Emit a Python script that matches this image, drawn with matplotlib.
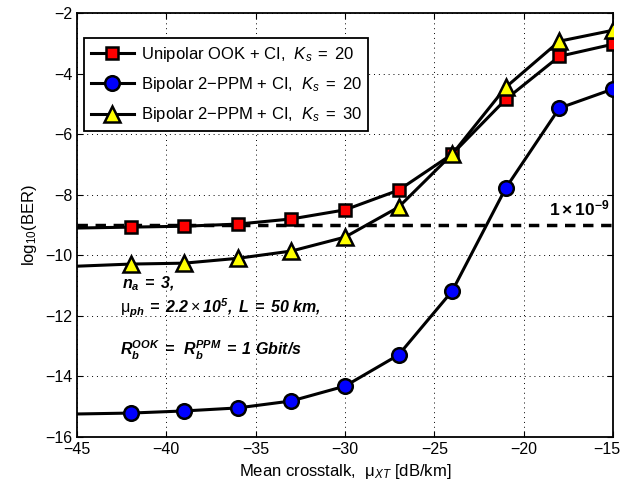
import numpy as np
import matplotlib
matplotlib.use('Agg')
import matplotlib.pyplot as plt
import matplotlib.transforms as mtransforms

plt.rcParams['font.family'] = ['Liberation Sans', 'DejaVu Sans']
plt.rcParams['mathtext.fontset'] = 'custom'
plt.rcParams['mathtext.rm'] = 'Liberation Sans'
plt.rcParams['mathtext.it'] = 'Liberation Sans:italic'
plt.rcParams['mathtext.bf'] = 'Liberation Sans:bold'
plt.rcParams['mathtext.bfit'] = 'Liberation Sans:bold:italic'

# data (first point at -45 has no marker)
crosstalk = [-45, -42, -39, -36, -33, -30, -27, -24, -21, -18, -15]
ook_ks20 = [-9.1, -9.07, -9.04, -8.97, -8.8, -8.5, -7.85, -6.66, -4.85, -3.43, -3.03]
ppm_ks20 = [-15.24, -15.21, -15.14, -15.04, -14.81, -14.32, -13.29, -11.18, -7.78, -5.14, -4.51]
ppm_ks30 = [-10.36, -10.29, -10.26, -10.1, -9.86, -9.4, -8.41, -6.66, -4.45, -2.93, -2.57]
ber_limit = -9

fig = plt.figure(figsize=(6.22, 4.93), dpi=100)
ax = fig.add_axes([0.1238, 0.1136, 0.8617, 0.86])

ax.axhline(ber_limit, color='black', lw=2.5, ls=(0, (3, 2.2)), zorder=2)

ax.plot(crosstalk, ook_ks20, color='black', lw=2.2, marker='s', ms=9, mfc='red',
        mec='black', mew=1.8, markevery=list(range(1, 11)), zorder=3,
        label=r'Unipolar OOK + CI,  $\mathit{K_s\;=\;20}$')
ax.plot(crosstalk, ppm_ks20, color='black', lw=2.2, marker='o', ms=10.5, mfc='blue',
        mec='black', mew=1.8, markevery=list(range(1, 11)), zorder=3,
        label=r'Bipolar 2$-$PPM + CI,  $\mathit{K_s\;=\;20}$')
ax.plot(crosstalk, ppm_ks30, color='black', lw=2.2, marker='^', ms=11, mfc='yellow',
        mec='black', mew=1.8, markevery=list(range(1, 11)), zorder=3,
        label=r'Bipolar 2$-$PPM + CI,  $\mathit{K_s\;=\;30}$')

ax.set_xlim(-45, -15)
ax.set_ylim(-16, -2)
ax.set_xticks(np.arange(-45, -14, 5))
ax.set_yticks(np.arange(-16, -1, 2))
ax.grid(True, color='black', ls=(0, (1, 4)), lw=0.7)
ax.tick_params(direction='in', top=True, right=True, labelsize=11.5, length=4)
for s in ax.spines.values():
    s.set_linewidth(1.3)

# keep the last x tick label inside the figure
fig.canvas.draw()
lbl = ax.get_xticklabels()[-1]
lbl.set_transform(lbl.get_transform() + mtransforms.ScaledTranslation(-6 / 100, 0, fig.dpi_scale_trans))

ax.set_xlabel(r'Mean crosstalk,  μ$_{XT}$ [dB/km]', fontsize=12)
ax.set_ylabel(r'log$_{10}$(BER)', fontsize=12)

ax.text(-15.2, -8.45, r'$\mathbf{1\times10^{-9}}$', fontsize=12.5,
        ha='right', va='center')

ax.text(-42.5, -10.95, r'$\mathbfit{n_a\;=\;3,}$', fontsize=11.5, va='center')
ax.text(-42.6, -11.75, r'μ$\mathbfit{_{ph}\;=\;2.2}\times\mathbfit{10^5,\ L\;=\;50\ km,}$',
        fontsize=11.5, va='center')
ax.text(-42.6, -13.15, r'$\mathbfit{R_b^{OOK}\;=\;\;R_b^{PPM}\;=\;1\ Gbit/s}$',
        fontsize=11.5, va='center')

leg = ax.legend(loc='upper left', bbox_to_anchor=(0.013, 0.941), fontsize=12,
                frameon=True, fancybox=False, edgecolor='black', framealpha=1,
                borderaxespad=0, handlelength=2.6, labelspacing=0.68,
                borderpad=0.4, handletextpad=0.4)
leg.get_frame().set_linewidth(1.3)

fig.savefig('out.png', dpi=100)
